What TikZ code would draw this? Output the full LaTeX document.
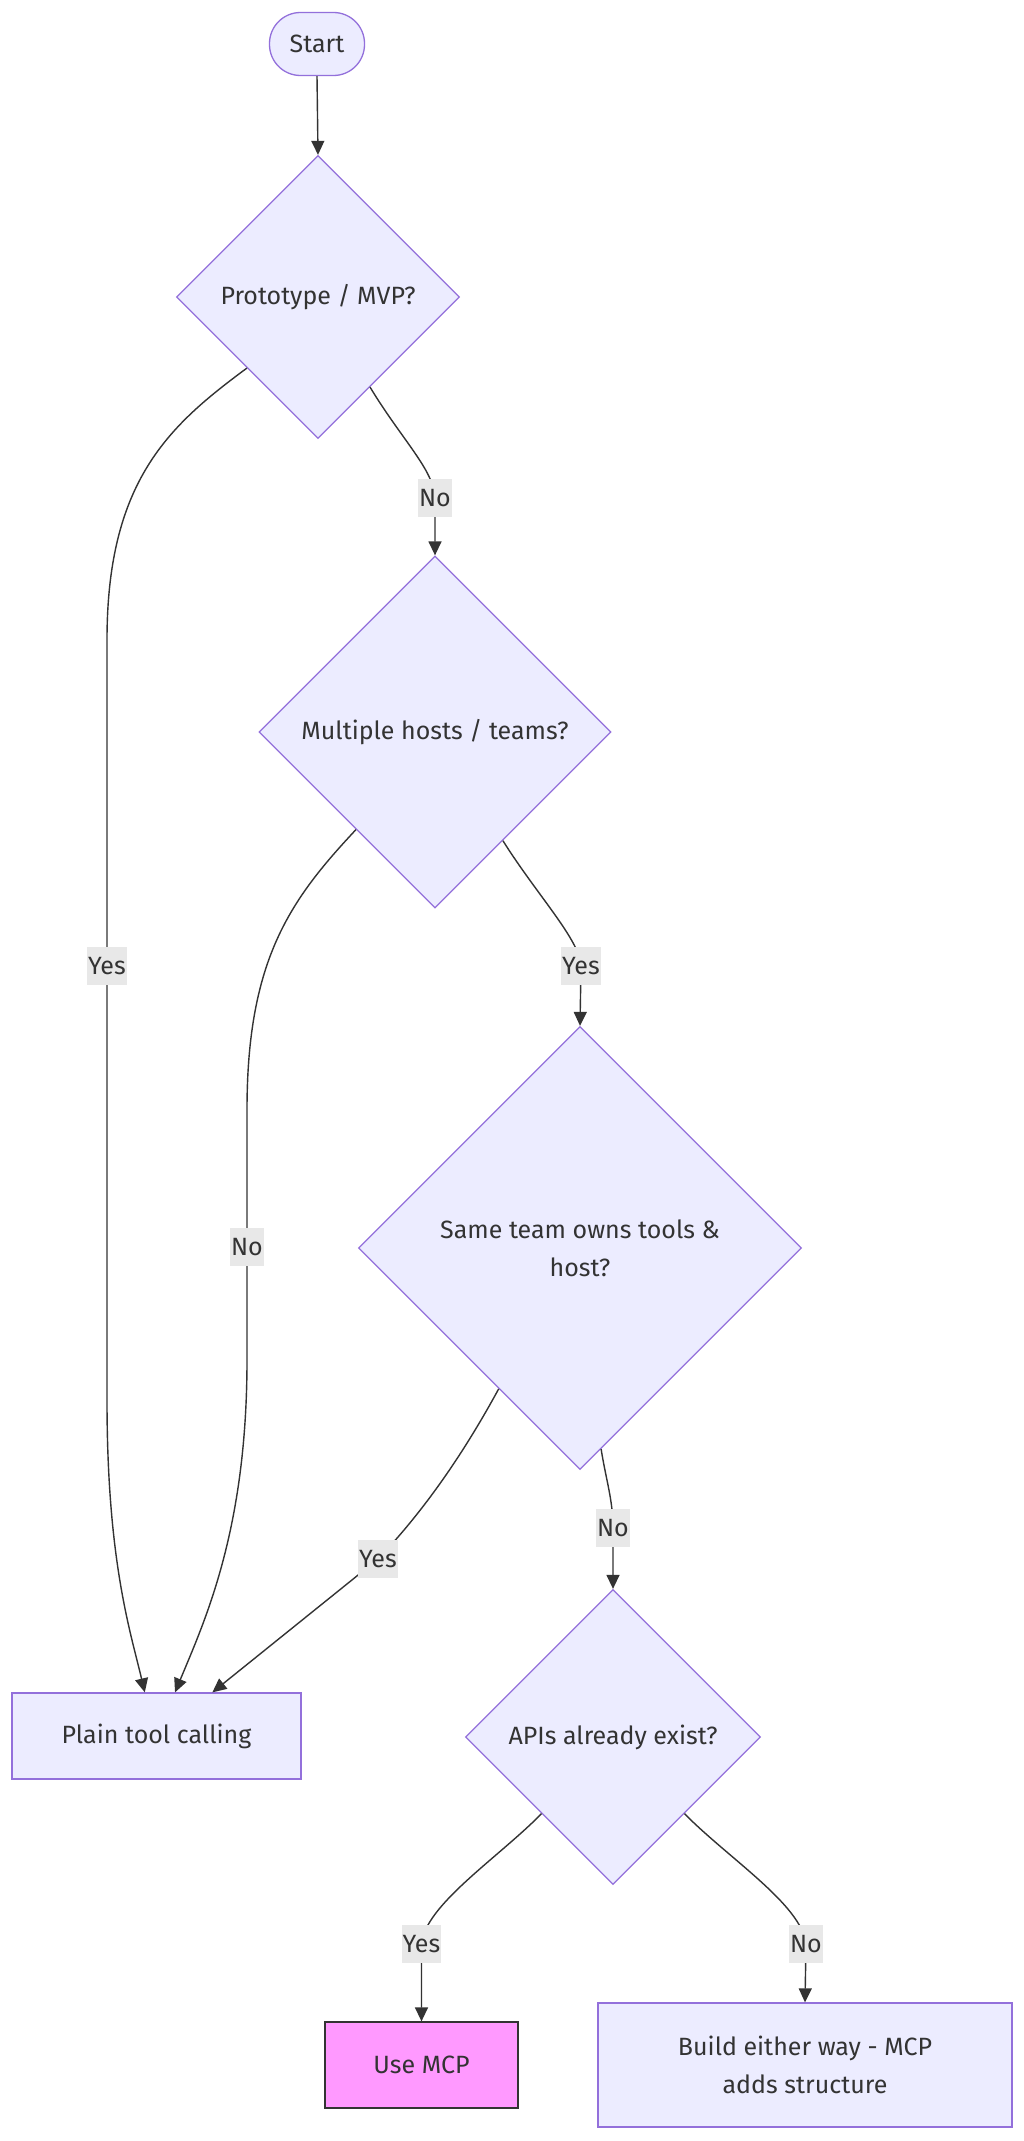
\documentclass[tikz,border=0pt]{standalone}
\usepackage{fontspec}
\setmainfont{Fira Sans}
\usetikzlibrary{shapes.geometric,arrows.meta}
\definecolor{nodefill}{HTML}{ECECFF}
\definecolor{nodeline}{HTML}{9370DB}
\definecolor{edgecol}{HTML}{333333}
\definecolor{lblbg}{HTML}{E8E8E8}
\definecolor{txt}{HTML}{333333}
\definecolor{mcpfill}{HTML}{FF99FF}
\begin{document}
\begin{tikzpicture}[x=1pt,y=-1pt,
  font=\fontsize{25}{38}\selectfont,
  box/.style={draw=nodeline, fill=nodefill, line width=1.3pt, text=txt, align=center, inner sep=0pt},
  decision/.style={box, diamond, aspect=1, minimum width=#1, minimum height=#1},
  proc/.style 2 args={box, rectangle, minimum width=#1, minimum height=#2},
  lbl/.style={fill=lblbg, text=txt, inner xsep=1pt, inner ysep=0pt, minimum height=38pt},
  flow/.style={draw=edgecol, line width=1.4pt, -{Triangle[length=14pt,width=13pt]}},
]
\useasboundingbox (0,0) rectangle (1024,2141);
\fill[white] (0,0) rectangle (1024,2141);

\node[box, rounded corners=31pt, minimum width=95pt, minimum height=63pt] (start) at (317,44) {Start};
\node[decision=283pt] (d1) at (318,297) {Prototype / MVP?};
\node[decision=352pt] (d2) at (435,732) {Multiple hosts / teams?};
\node[decision=443pt] (d3) at (580,1248) {Same team owns tools \&\\host?};
\node[decision=295pt] (d4) at (613,1737) {APIs already exist?};
\node[proc={289pt}{86pt}] (plain) at (156.5,1736) {Plain tool calling};
\node[proc={193pt}{86pt}, fill=mcpfill, draw=edgecol] (use) at (421.5,2065) {Use MCP};
\node[proc={414pt}{124pt}] (build) at (805,2065) {Build either way - MCP\\adds structure};

\draw[flow] (start.south) -- (d1.north);
\draw[flow] (d1.225) .. controls (170,425) and (107,480) .. (107,640) -- (107,966) node[lbl] (l1) {Yes} -- (107,1400) .. controls (107,1560) and (130,1630) .. (plain.105);
\draw[flow] (d1.-60) .. controls (402,440) and (434,470) .. (435,498) node[lbl] (l2) {No} -- (d2.north);
\draw[flow] (d2.231) .. controls (290,900) and (247,960) .. (247,1110) -- (247,1247) node[lbl] (l3) {No} -- (247,1360) .. controls (247,1530) and (205,1620) .. (plain.67);
\draw[flow] (d2.-58) .. controls (537,895) and (580,940) .. (581,966) node[lbl] (l4) {Yes} -- (d3.north);
\draw[flow] (d3.240) .. controls (460,1460) and (420,1515) .. (378,1559) node[lbl] (l5) {Yes} -- (plain.38);
\draw[flow] (d3.-84) .. controls (606,1480) and (613,1500) .. (613,1528) node[lbl] (l6) {No} -- (d4.north);
\draw[flow] (d4.227) .. controls (498,1858) and (425,1905) .. (421.5,1944) node[lbl] (l7) {Yes} -- (use.north);
\draw[flow] (d4.-47) .. controls (728,1858) and (802,1905) .. (806,1944) node[lbl] (l8) {No} -- (build.north);
\end{tikzpicture}
\end{document}
